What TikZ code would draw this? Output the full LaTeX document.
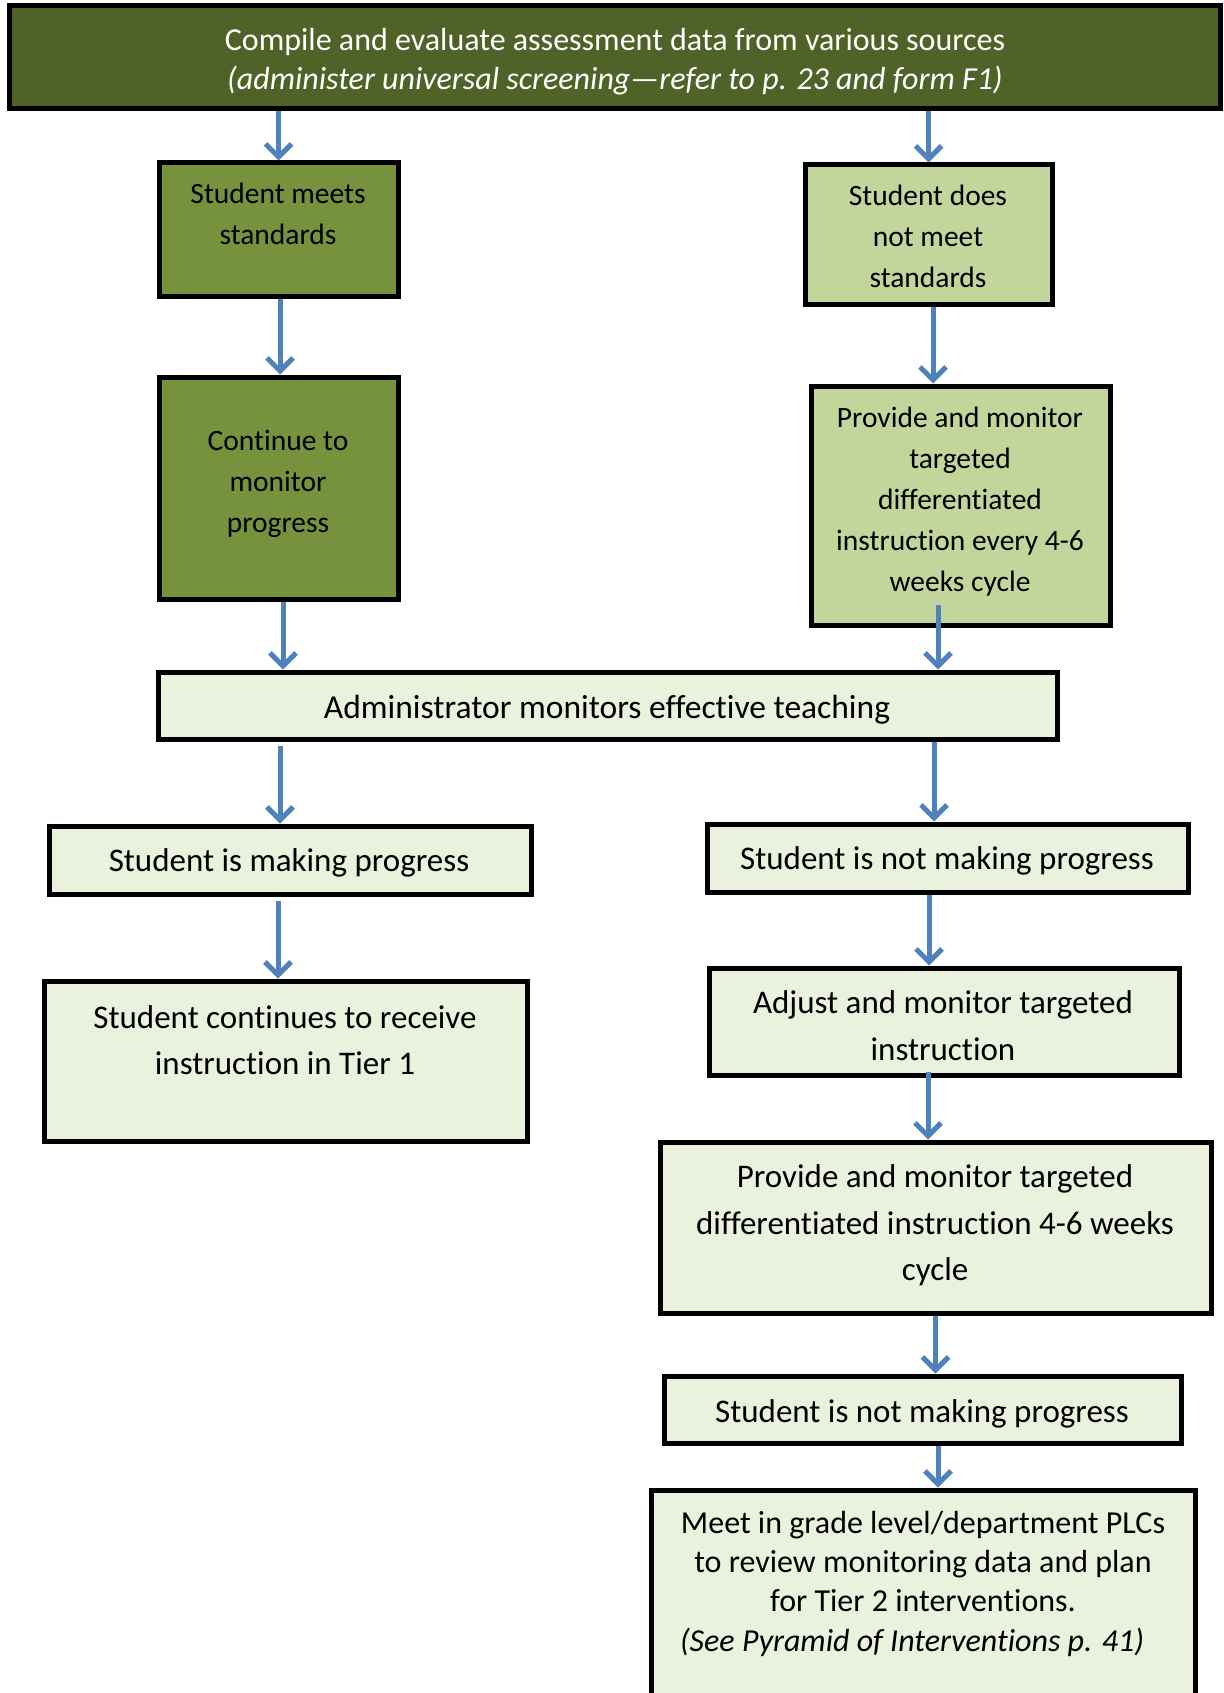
\documentclass[tikz,border=0pt]{standalone}
\usepackage{fontspec}
\setmainfont{Carlito}[Ligatures=NoCommon]
\usetikzlibrary{arrows.meta}
\definecolor{dkgreen}{HTML}{4F6228}
\definecolor{mdgreen}{HTML}{76923C}
\definecolor{ltgreen}{HTML}{C2D69B}
\definecolor{pale}{HTML}{EAF1DD}
\definecolor{arrblue}{HTML}{4F81BD}
\tikzset{
  box/.style={draw=black, line width=5pt, rectangle, inner sep=0pt},
  arr/.style={draw=arrblue, line width=5pt, -{Straight Barb[length=13pt,width=26pt]}},
  txt/.style={inner sep=0pt, align=center, execute at begin node=\strut, execute at end node=\strut},
  small/.style={txt, font=\fontsize{29.5}{41}\selectfont},
  big/.style={txt, font=\fontsize{33}{46.5}\selectfont},
}
\begin{document}
\begin{tikzpicture}[x=1pt,y=-1pt]
\useasboundingbox (0,0) rectangle (1223,1693);
\fill[white] (0,0) rectangle (1223,1693);
% boxes
\node[box, fill=dkgreen, minimum width=1211pt, minimum height=103pt] (top) at (614.5,57.5) {};
\node[box, fill=mdgreen, minimum width=239pt, minimum height=134pt] (sm) at (278.5,230) {};
\node[box, fill=ltgreen, minimum width=247pt, minimum height=140pt] (snm) at (928.5,235) {};
\node[box, fill=mdgreen, minimum width=239pt, minimum height=222pt] (cont) at (278.5,488) {};
\node[box, fill=ltgreen, minimum width=299pt, minimum height=239pt] (prov1) at (960.5,505.5) {};
\node[box, fill=pale, minimum width=899pt, minimum height=67pt] (admin) at (607.5,705.5) {};
\node[box, fill=pale, minimum width=482pt, minimum height=68pt] (mk) at (290,860) {};
\node[box, fill=pale, minimum width=481pt, minimum height=68pt] (nmk) at (947.5,858) {};
\node[box, fill=pale, minimum width=483pt, minimum height=160pt] (tier1) at (285.5,1061) {};
\node[box, fill=pale, minimum width=470pt, minimum height=107pt] (adj) at (944,1021.5) {};
\node[box, fill=pale, minimum width=551pt, minimum height=171pt] (prov2) at (935.5,1227.5) {};
\node[box, fill=pale, minimum width=517pt, minimum height=67pt] (nmk2) at (922.5,1409.5) {};
\node[box, fill=pale, minimum width=544pt, minimum height=220pt] (meet) at (923,1600) {};
% texts
\node[txt, text=white, font=\fontsize{32}{39}\selectfont] (topt) at (615,65)
  {Compile and evaluate assessment data from various sources\\ \textit{(administer universal screening—refer to p. 23 and form F1)}};
\node[small] (smt) at (278,220) {Student meets\\standards};
\node[small] (snmt) at (928,242.5) {Student does\\not meet\\standards};
\node[small] (contt) at (278,487.5) {Continue to\\monitor\\progress};
\node[small] (prov1t) at (960,505.5) {Provide and monitor\\targeted\\differentiated\\instruction every 4-6\\weeks cycle};
\node[txt, font=\fontsize{33.5}{41}\selectfont] (admint) at (607,710) {Administrator monitors effective teaching};
\node[big] (mkt) at (289,862.5) {Student is making progress};
\node[big] (nmkt) at (947,860.5) {Student is not making progress};
\node[big] (tier1t) at (285,1047) {Student continues to receive\\instruction in Tier 1};
\node[big] (adjt) at (943,1032.5) {Adjust and monitor targeted\\instruction};
\node[big] (prov2t) at (935,1230) {Provide and monitor targeted\\differentiated instruction 4-6 weeks\\cycle};
\node[big] (nmk2t) at (922,1413.5) {Student is not making progress};
\node[txt, font=\fontsize{32}{39}\selectfont] (meett) at (923,1567.5) {Meet in grade level/department PLCs\\to review monitoring data and plan\\for Tier 2 interventions.};
\node[txt, font=\fontsize{32}{39}\selectfont\itshape] (meett2) at (912,1644) {(See Pyramid of Interventions p. 41)};
% arrows
\draw[arr] (top.south -| sm.north) -- (sm.north);
\draw[arr] (top.south -| snm.north) -- (snm.north);
\draw[arr] ([xshift=1.5pt]sm.south) -- ([xshift=1.5pt]cont.north);
\draw[arr] ([xshift=4.5pt]snm.south) -- ([xshift=4.5pt]snm.south |- prov1.north);
\draw[arr] ([xshift=4.5pt]cont.south) -- ([xshift=4.5pt]cont.south |- admin.north);
\draw[arr] ([xshift=-22.5pt,yshift=23pt]prov1.south) -- ([xshift=-22.5pt]prov1.south |- admin.north);
\draw[arr] ([xshift=-327.5pt,yshift=-4pt]admin.south) -- ([xshift=-327.5pt]admin.south |- mk.north);
\draw[arr] ([xshift=326.5pt]admin.south) -- ([xshift=326.5pt]admin.south |- nmk.north);
\draw[arr] ([xshift=-12pt,yshift=-4pt]mk.south) -- ([xshift=-12pt]mk.south |- tier1.north);
\draw[arr] ([xshift=-18.5pt]nmk.south) -- ([xshift=-18.5pt]nmk.south |- adj.north);
\draw[arr] ([xshift=-16pt,yshift=6pt]adj.south) -- ([xshift=-16pt]adj.south |- prov2.north);
\draw[arr] (prov2.south) -- (prov2.south |- nmk2.north);
\draw[arr] ([xshift=15.5pt]nmk2.south) -- ([xshift=15.5pt]nmk2.south |- meet.north);
\end{tikzpicture}
\end{document}
